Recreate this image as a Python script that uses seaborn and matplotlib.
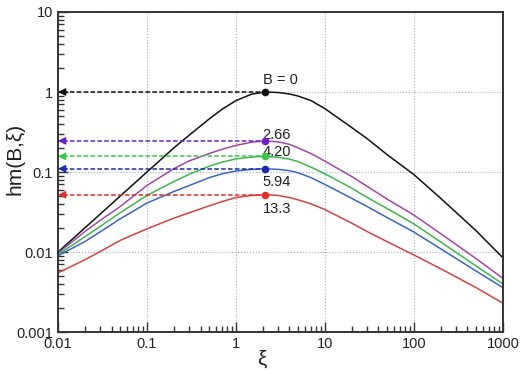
import pandas as pd
import seaborn as sns
import matplotlib.pyplot as plt
from matplotlib.ticker import LogLocator, NullFormatter

sns.set_theme(style="ticks")
plt.rcParams['font.family'] = ['Liberation Sans', 'DejaVu Sans']

# curves
xi = [0.01, 0.02, 0.03, 0.05, 0.1, 0.2, 0.3, 0.5, 0.7, 1, 1.5, 2.12, 3, 4, 5, 7,
      10, 20, 30, 50, 100, 200, 500, 1000]
hm_b0 = [0.010, 0.020, 0.030, 0.050, 0.100, 0.20, 0.29, 0.46, 0.61, 0.78, 0.94, 1.0,
         0.985, 0.945, 0.89, 0.78, 0.62, 0.36, 0.26, 0.165, 0.093, 0.047, 0.0185, 0.0085]
hm_b266 = [0.0097, 0.018, 0.025, 0.037, 0.068, 0.11, 0.138, 0.17, 0.193, 0.215, 0.236, 0.245,
           0.238, 0.222, 0.20, 0.17, 0.137, 0.088, 0.066, 0.046, 0.029, 0.017, 0.0083, 0.0047]
hm_b420 = [0.0093, 0.0155, 0.021, 0.031, 0.051, 0.076, 0.094, 0.118, 0.133, 0.146, 0.154, 0.157,
           0.153, 0.145, 0.135, 0.115, 0.095, 0.063, 0.048, 0.035, 0.0225, 0.0134, 0.0067, 0.0040]
hm_b594 = [0.0090, 0.0135, 0.018, 0.026, 0.041, 0.057, 0.068, 0.085, 0.095, 0.103, 0.108, 0.110,
           0.108, 0.104, 0.098, 0.085, 0.070, 0.047, 0.037, 0.027, 0.0178, 0.011, 0.0058, 0.0036]
hm_b133 = [0.0055, 0.0080, 0.0102, 0.0140, 0.0195, 0.0265, 0.0310, 0.0378, 0.0428, 0.048, 0.051, 0.052,
           0.051, 0.048, 0.045, 0.040, 0.034, 0.023, 0.018, 0.0135, 0.0092, 0.0062, 0.0036, 0.0023]

b_labels = ['B = 0', '2.66', '4.20', '5.94', '13.3']
peak_xi = 2.12
peak_vals = [1.0, 0.245, 0.157, 0.110, 0.052]

xticks = [0.01, 0.1, 1, 10, 100, 1000]
xtick_labels = ['0.01', '0.1', '1', '10', '100', '1000']
yticks = [0.001, 0.01, 0.1, 1, 10]
ytick_labels = ['0.001', '0.01', '0.1', '1', '10']

line_colors = ['#111111', '#a645a8', '#3cb84a', '#3a66c4', '#d9413f']
mark_colors = ['#111111', '#6a1fc8', '#33cc44', '#1a2bb0', '#e0302c']

df = pd.concat([
    pd.DataFrame({'xi': xi, 'hm': v, 'B': b})
    for v, b in zip([hm_b0, hm_b266, hm_b420, hm_b594, hm_b133], b_labels)
])

fig = plt.figure(figsize=(5.2, 3.74), dpi=100)
ax = fig.add_axes([0.1115, 0.112, 0.8555, 0.856])
ax.set_xscale('log')
ax.set_yscale('log')

sns.lineplot(data=df, x='xi', y='hm', hue='B', palette=dict(zip(b_labels, line_colors)),
             estimator=None, sort=False, legend=False, lw=1.1, ax=ax)

# dashed arrows from each peak to the y axis
for v, c in zip(peak_vals, mark_colors):
    ax.plot([0.0113, peak_xi], [v, v], ls='--', color=c, lw=1.1, dashes=(3, 1.5))
    ax.annotate('', xy=(0.01, v), xytext=(0.0125, v),
                arrowprops=dict(arrowstyle='-|>', color=c, lw=1, mutation_scale=11,
                                shrinkA=0, shrinkB=0))
    ax.plot(peak_xi, v, 'o', color=c, ms=4.5, zorder=5)

# curve labels
label_y = [1.41, 0.29, 0.18, 0.076, 0.035]
for t, y in zip(b_labels, label_y):
    ax.text(2.0, y, t, fontsize=10.5, va='center', ha='left', color='#222222')

ax.set_xlim(0.01, 1000)
ax.set_ylim(0.001, 10)
ax.set_xticks(xticks)
ax.set_xticklabels(xtick_labels)
ax.set_yticks(yticks)
ax.set_yticklabels(ytick_labels)
ax.xaxis.set_minor_locator(LogLocator(base=10, subs=range(2, 10)))
ax.yaxis.set_minor_locator(LogLocator(base=10, subs=range(2, 10)))
ax.xaxis.set_minor_formatter(NullFormatter())
ax.yaxis.set_minor_formatter(NullFormatter())
ax.tick_params(which='both', direction='in', bottom=True, left=True, top=False, right=False,
               color='#333333', labelsize=10.5, labelcolor='#222222')
ax.tick_params(which='major', length=7, width=1)
ax.tick_params(which='minor', length=4, width=1)
ax.grid(which='major', ls=':', color='#a4acd8', lw=0.8)
ax.grid(which='minor', visible=False)

for s in ax.spines.values():
    s.set_visible(True)
    s.set_color('#333333')
    s.set_linewidth(1.4)

ax.set_xlabel('ξ', fontsize=15, color='#222222')
ax.set_ylabel('hm(B,ξ)', fontsize=15, color='#222222')
ax.xaxis.set_label_coords(0.458, -0.055)
ax.yaxis.set_label_coords(-0.075, 0.54)

plt.savefig('out.png', dpi=100)
